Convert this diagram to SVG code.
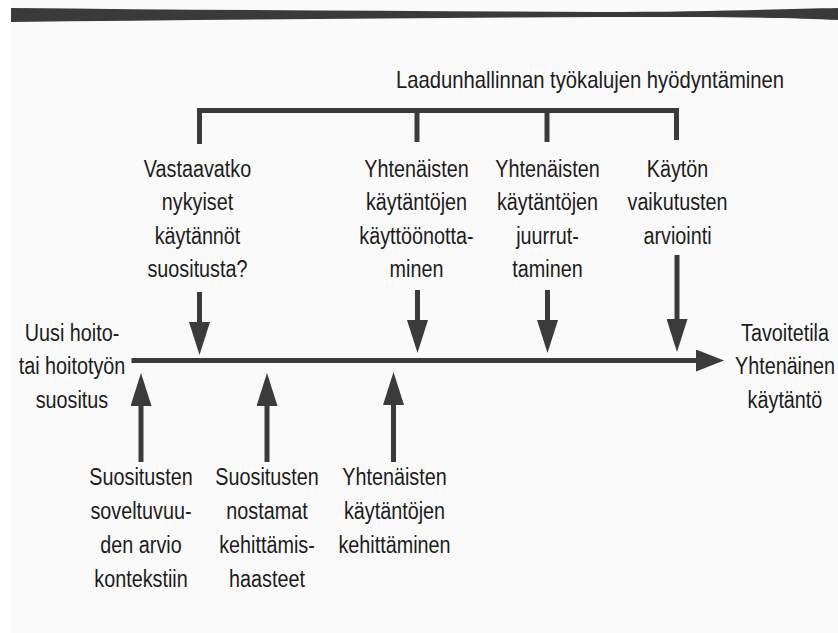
<svg xmlns="http://www.w3.org/2000/svg" width="838" height="633" viewBox="0 0 838 633">
<style>
  text { font-family: "Liberation Sans", Arial, sans-serif; font-size: 23px; fill: #1c1c1c; text-anchor: middle; }
  .ln { stroke: #3b3b3b; stroke-width: 5; fill: none; }
  .hd { fill: #3b3b3b; }
</style>
<defs>
  <marker id="ahV" viewBox="0 0 33 21" markerWidth="33" markerHeight="21" refX="1" refY="10.5" orient="auto" markerUnits="userSpaceOnUse">
    <path class="hd" d="M0,0 L33,10.5 L0,21 Z"/>
  </marker>
  <marker id="ahH" viewBox="0 0 28 22" markerWidth="28" markerHeight="22" refX="1" refY="11" orient="auto" markerUnits="userSpaceOnUse">
    <path class="hd" d="M0,0 L28,11 L0,22 Z"/>
  </marker>
</defs>
<rect x="0" y="0" width="838" height="633" fill="#fafafa"/>
<rect x="0" y="0" width="11" height="633" fill="#ffffff"/>
<path d="M11,8 C200,10 400,11 600,12 C700,12 780,9 838,8 L838,20 C780,17 700,17 600,17 C400,18 200,20 11,22 Z" fill="#3a3a3a"/>

<g id="connectors">
  <path class="ln" d="M199.5,144 V110.5 H676.5 V140" stroke-linejoin="miter"/>
  <line class="ln" x1="417" y1="110.5" x2="417" y2="142"/>
  <line class="ln" x1="547" y1="110.5" x2="547" y2="142"/>
  <line class="ln" x1="131.5" y1="360.5" x2="697" y2="360.5" marker-end="url(#ahH)"/>
  <line class="ln" x1="199.5" y1="292" x2="199.5" y2="323" marker-end="url(#ahV)"/>
  <line class="ln" x1="417.5" y1="290" x2="417.5" y2="321" marker-end="url(#ahV)"/>
  <line class="ln" x1="547.5" y1="290" x2="547.5" y2="321" marker-end="url(#ahV)"/>
  <line class="ln" x1="677" y1="255" x2="677" y2="320" marker-end="url(#ahV)"/>
  <line class="ln" x1="141" y1="462" x2="141" y2="405" marker-end="url(#ahV)"/>
  <line class="ln" x1="267" y1="462" x2="267" y2="405" marker-end="url(#ahV)"/>
  <line class="ln" x1="393.5" y1="462" x2="393.5" y2="404" marker-end="url(#ahV)"/>
</g>

<g id="title" transform="translate(590,0) scale(0.88,1) translate(-590,0)"><text x="590" y="88">Laadunhallinnan työkalujen hyödyntäminen</text></g>

<g id="vastaavatko" transform="translate(197.5,0) scale(0.86,1) translate(-197.5,0)">
  <text x="197.5" y="177">Vastaavatko</text>
  <text x="197.5" y="210.5">nykyiset</text>
  <text x="197.5" y="244">käytännöt</text>
  <text x="197.5" y="277">suositusta?</text>
</g>
<g id="kayttoonotto" transform="translate(416.5,0) scale(0.86,1) translate(-416.5,0)">
  <text x="416.5" y="177">Yhtenäisten</text>
  <text x="416.5" y="210.5">käytäntöjen</text>
  <text x="416.5" y="244">käyttöönotta-</text>
  <text x="416.5" y="277">minen</text>
</g>
<g id="juurruttaminen" transform="translate(547.5,0) scale(0.86,1) translate(-547.5,0)">
  <text x="547.5" y="177">Yhtenäisten</text>
  <text x="547.5" y="210.5">käytäntöjen</text>
  <text x="547.5" y="244">juurrut-</text>
  <text x="547.5" y="277">taminen</text>
</g>
<g id="arviointi" transform="translate(677.5,0) scale(0.86,1) translate(-677.5,0)">
  <text x="677.5" y="177">Käytön</text>
  <text x="677.5" y="210.5">vaikutusten</text>
  <text x="677.5" y="244">arviointi</text>
</g>
<g id="lahto" transform="translate(72,0) scale(0.86,1) translate(-72,0)">
  <text x="72" y="341">Uusi hoito-</text>
  <text x="72" y="374.5">tai hoitotyön</text>
  <text x="72" y="408">suositus</text>
</g>
<g id="tavoite" transform="translate(785,0) scale(0.86,1) translate(-785,0)">
  <text x="785" y="341">Tavoitetila</text>
  <text x="785" y="374.5">Yhtenäinen</text>
  <text x="785" y="408">käytäntö</text>
</g>
<g id="soveltuvuus" transform="translate(141,0) scale(0.86,1) translate(-141,0)">
  <text x="141" y="485">Suositusten</text>
  <text x="141" y="519">soveltuvuu-</text>
  <text x="141" y="553">den arvio</text>
  <text x="141" y="587">kontekstiin</text>
</g>
<g id="haasteet" transform="translate(267,0) scale(0.86,1) translate(-267,0)">
  <text x="267" y="485">Suositusten</text>
  <text x="267" y="519">nostamat</text>
  <text x="267" y="553">kehittämis-</text>
  <text x="267" y="587">haasteet</text>
</g>
<g id="kehittaminen" transform="translate(394.5,0) scale(0.86,1) translate(-394.5,0)">
  <text x="394.5" y="485">Yhtenäisten</text>
  <text x="394.5" y="519">käytäntöjen</text>
  <text x="394.5" y="553">kehittäminen</text>
</g>
</svg>
